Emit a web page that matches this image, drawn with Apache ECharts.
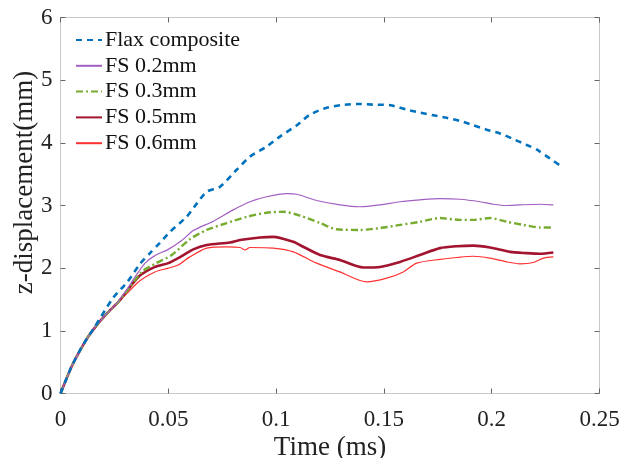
<!DOCTYPE html>
<html><head><meta charset="utf-8">
<script src="https://cdn.jsdelivr.net/npm/echarts@6/dist/echarts.min.js"></script>
<style>html,body{margin:0;padding:0;background:#fff}#c{width:635px;height:458px}</style>
</head><body><div id="c"></div>
<script>
const seriesNames = ['Flax composite','FS 0.2mm','FS 0.3mm','FS 0.5mm','FS 0.6mm'];
const xTicks = [0,0.05,0.1,0.15,0.2,0.25];
const yTicks = [0,1,2,3,4,5,6];

const flaxT = [0,0.002,0.005,0.01,0.016,0.0245,0.031,0.0369,0.0415,0.046,0.0508,0.0585,0.0632,0.0678,0.074,0.0817,0.0879,0.0956,0.1018,0.1096,0.1157,0.1235,0.13,0.138,0.145,0.153,0.1606,0.167,0.173,0.179,0.1853,0.1915,0.1977,0.2039,0.21,0.216,0.221,0.227,0.2325];
const flaxY = [0,0.17,0.42,0.75,1.07,1.53,1.78,2.07,2.24,2.40,2.58,2.82,3.03,3.22,3.30,3.57,3.78,3.94,4.10,4.28,4.45,4.56,4.60,4.62,4.61,4.60,4.53,4.48,4.44,4.40,4.35,4.28,4.21,4.15,4.06,3.97,3.89,3.75,3.62];

const fs02T = [0,0.002,0.005,0.0083,0.0129,0.0175,0.023,0.0268,0.030,0.035,0.0392,0.0438,0.05,0.0562,0.0616,0.0709,0.0801,0.0879,0.0956,0.1049,0.1096,0.1188,0.1296,0.1389,0.1482,0.1575,0.1667,0.176,0.1853,0.1946,0.2007,0.207,0.2131,0.2224,0.2286];
const fs02Y = [0,0.17,0.42,0.64,0.91,1.12,1.33,1.47,1.62,1.88,2.08,2.20,2.30,2.44,2.60,2.75,2.93,3.06,3.14,3.19,3.18,3.08,3.01,2.98,3.01,3.06,3.09,3.11,3.10,3.06,3.02,3.00,3.01,3.02,3.01];

const fs03T = [0,0.002,0.005,0.0083,0.0129,0.0175,0.023,0.0268,0.030,0.0377,0.0438,0.0516,0.060,0.0678,0.0771,0.0864,0.0956,0.1034,0.111,0.1204,0.128,0.1389,0.1482,0.1575,0.1667,0.176,0.1853,0.1915,0.1992,0.207,0.2147,0.2224,0.2286];
const fs03Y = [0,0.17,0.42,0.64,0.91,1.12,1.33,1.46,1.60,1.94,2.07,2.21,2.46,2.61,2.72,2.82,2.885,2.90,2.84,2.72,2.62,2.61,2.64,2.69,2.74,2.80,2.77,2.77,2.80,2.74,2.69,2.65,2.65];

const fs05T = [0,0.002,0.005,0.0083,0.0129,0.0175,0.023,0.0268,0.0361,0.0438,0.05,0.0546,0.0616,0.0678,0.0786,0.0833,0.0925,0.0987,0.108,0.111,0.1204,0.1296,0.1404,0.1482,0.1575,0.1667,0.176,0.1838,0.1915,0.1992,0.2085,0.2162,0.2224,0.2286];
const fs05Y = [0,0.17,0.42,0.64,0.91,1.12,1.33,1.46,1.86,2.02,2.08,2.16,2.30,2.37,2.41,2.45,2.49,2.50,2.42,2.37,2.21,2.13,2.01,2.02,2.10,2.21,2.32,2.35,2.36,2.33,2.26,2.24,2.23,2.25];

const fs06T = [0,0.002,0.005,0.0083,0.0129,0.0175,0.023,0.0268,0.0361,0.0438,0.05,0.0546,0.06,0.0678,0.0771,0.0833,0.0856,0.0879,0.0987,0.108,0.1188,0.1296,0.142,0.1513,0.159,0.1652,0.176,0.1838,0.1915,0.1992,0.207,0.2131,0.2193,0.2239,0.2286];
const fs06Y = [0,0.17,0.42,0.64,0.91,1.12,1.33,1.45,1.78,1.94,2.00,2.05,2.18,2.32,2.34,2.33,2.29,2.33,2.32,2.26,2.08,1.94,1.78,1.84,1.94,2.08,2.14,2.17,2.19,2.16,2.10,2.07,2.09,2.16,2.18];

const colors = ['#0072BD','#A25FC0','#77AC30','#A2142F','#FF3030'];
const widths = [2.6,1.2,2.4,2.6,1.2];
const types = [[6,5],'solid',[7,3,2,3],'solid','solid'];
const tArr = [flaxT,fs02T,fs03T,fs05T,fs06T];
const yArr = [flaxY,fs02Y,fs03Y,fs05Y,fs06Y];

const font = '"Liberation Serif","Times New Roman",serif';
const chart = echarts.init(document.getElementById('c'));
const pair = (t,y)=>t.map((v,i)=>[v,y[i]]);
const fmt = v => String(+(+v).toFixed(2));
const axisLine = {show:true,onZero:false,lineStyle:{color:'#c8c8c8',width:1}};
const tick = {show:true,inside:true,length:5,lineStyle:{color:'#666',width:1}};

const series = seriesNames.map((n,i)=>({
  name:n,type:'line',showSymbol:false,symbol:'none',smooth:0.25,
  data:pair(tArr[i],yArr[i]),
  xAxisIndex:0,yAxisIndex:0,
  z: 10 - i,
  lineStyle:{color:colors[i],width:widths[i],type:types[i]},
  itemStyle:{color:colors[i]}
}));
series.push({name:'_box',type:'line',xAxisIndex:1,yAxisIndex:1,data:[],silent:true,symbol:'none'});

chart.setOption({
  animation:false,
  backgroundColor:'#fff',
  grid:{left:60.5,right:35.5,top:17.5,bottom:64.5,containLabel:false,outerBoundsMode:'none',
        show:true,borderColor:'#c8c8c8',borderWidth:1,backgroundColor:'transparent'},
  legend:{
    orient:'vertical',left:75,top:29,padding:0,itemWidth:26,itemHeight:14,itemGap:3.8,
    data:seriesNames,
    itemStyle:{opacity:0,borderWidth:0},
    textStyle:{fontFamily:font,fontSize:22,lineHeight:22,color:'#111',padding:[0,0,0,-2]}
  },
  xAxis:[{
    type:'value',min:xTicks[0],max:xTicks[xTicks.length-1],interval:0.05,
    name:'Time (ms)',nameLocation:'middle',nameGap:41,nameMoveOverlap:false,
    nameTextStyle:{fontFamily:font,fontSize:27,color:'#222'},
    axisLine:axisLine,axisTick:tick,splitLine:{show:false},
    axisLabel:{fontFamily:font,fontSize:23,color:'#222',margin:15,formatter:fmt}
  },{
    type:'value',position:'top',min:0,max:0.25,interval:0.05,
    axisLine:axisLine,axisTick:tick,splitLine:{show:false},axisLabel:{show:false}
  }],
  yAxis:[{
    type:'value',min:yTicks[0],max:yTicks[yTicks.length-1],interval:1,
    name:'z-displacement(mm)',nameLocation:'middle',nameGap:22,nameMoveOverlap:false,
    nameTextStyle:{fontFamily:font,fontSize:27,color:'#222',padding:[0,0,0,46]},
    axisLine:axisLine,axisTick:tick,splitLine:{show:false},
    axisLabel:{fontFamily:font,fontSize:23,color:'#222',margin:8,formatter:fmt}
  },{
    type:'value',position:'right',min:0,max:6,interval:1,
    axisLine:axisLine,axisTick:tick,splitLine:{show:false},axisLabel:{show:false}
  }],
  series: series
});
</script></body></html>
